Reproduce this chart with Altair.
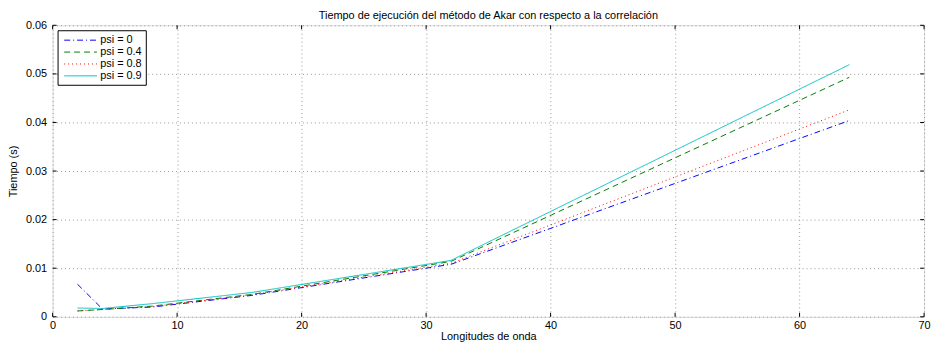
import altair as alt
import pandas as pd

x_vals = [2, 4, 8, 16, 32, 64]
psi_0 = [0.0067, 0.0016, 0.0020, 0.0044, 0.0108, 0.0404]
psi_04 = [0.0012, 0.0015, 0.0022, 0.0046, 0.0114, 0.0493]
psi_08 = [0.0012, 0.0015, 0.0021, 0.0045, 0.0110, 0.0426]
psi_09 = [0.0018, 0.0017, 0.0027, 0.0050, 0.0116, 0.0519]
series_names = ["psi = 0", "psi = 0.4", "psi = 0.8", "psi = 0.9"]
series_colors = ["#0000FF", "#008000", "#FF0000", "#00BFBF"]
series_dashes = [[6, 3, 1, 3], [6, 4], [1, 3], [1, 0]]
x_ticks = [0, 10, 20, 30, 40, 50, 60, 70]
y_ticks = [0, 0.01, 0.02, 0.03, 0.04, 0.05, 0.06]

W, H = 879, 294
TICK = 4

rows = []
for name, vals in zip(series_names, [psi_0, psi_04, psi_08, psi_09]):
    for xv, yv in zip(x_vals, vals):
        rows.append({"x": xv, "y": yv, "serie": name})
df = pd.DataFrame(rows)
xt = pd.DataFrame({"x": x_ticks})
yt = pd.DataFrame({"y": y_ticks})

FONT = "Liberation Sans"

xs = alt.Scale(domain=[0, 70], nice=False)
ys = alt.Scale(domain=[0, 0.06], nice=False)

x_axis = alt.Axis(
    values=x_ticks, title="Longitudes de onda", grid=True, gridDash=[1, 3],
    gridColor="#999999", gridWidth=1, domain=False, ticks=False, tickSize=0,
    labelPadding=3, labelFontSize=11, labelFont=FONT,
    labelColor="black", titleFont=FONT, titleFontSize=11, titleFontWeight="normal",
    titleColor="black", titlePadding=0, labelFlush=False)
y_axis = alt.Axis(
    values=y_ticks, title="Tiempo (s)", grid=True, gridDash=[1, 3],
    gridColor="#999999", gridWidth=1, domain=False, ticks=False, tickSize=0,
    labelPadding=6, labelFontSize=11, labelFont=FONT,
    labelColor="black", labelExpr="datum.value == 0 ? '0' : format(datum.value, '.2f')",
    titleFont=FONT, titleFontSize=11, titleFontWeight="normal", titleColor="black",
    titlePadding=7, labelFlush=False)

lines = alt.Chart(df).mark_line(strokeWidth=1, clip=True).encode(
    x=alt.X("x:Q", scale=xs, axis=x_axis),
    y=alt.Y("y:Q", scale=ys, axis=y_axis),
    color=alt.Color("serie:N", sort=series_names,
                    scale=alt.Scale(domain=series_names, range=series_colors),
                    legend=alt.Legend(
                        title=None, orient="none", legendX=5, legendY=5,
                        strokeColor="black", fillColor="white", padding=4,
                        symbolType="M-0.6,0H5.4", symbolSize=121, symbolStrokeWidth=1,
                        labelOffset=27, labelFontSize=11, labelFont=FONT,
                        labelColor="black", rowPadding=1)),
    strokeDash=alt.StrokeDash("serie:N", sort=series_names,
                              scale=alt.Scale(domain=series_names, range=series_dashes),
                              legend=None),
)

tick_bottom = alt.Chart(xt).mark_rule(color="black", strokeWidth=1).encode(
    x=alt.X("x:Q", scale=xs, axis=x_axis), y=alt.value(H), y2=alt.value(H - TICK))
tick_top = alt.Chart(xt).mark_rule(color="black", strokeWidth=1).encode(
    x=alt.X("x:Q", scale=xs, axis=x_axis), y=alt.value(0), y2=alt.value(TICK))
tick_left = alt.Chart(yt).mark_rule(color="black", strokeWidth=1).encode(
    y=alt.Y("y:Q", scale=ys, axis=y_axis), x=alt.value(0), x2=alt.value(TICK))
tick_right = alt.Chart(yt).mark_rule(color="black", strokeWidth=1).encode(
    y=alt.Y("y:Q", scale=ys, axis=y_axis), x=alt.value(W), x2=alt.value(W - TICK))

chart = alt.layer(lines, tick_bottom, tick_top, tick_left, tick_right).properties(
    width=W, height=H,
    autosize=alt.AutoSizeParams(type="none"),
    padding={"left": 45, "top": 16, "right": 8, "bottom": 24},
    title=alt.Title("Tiempo de ejecución del método de Akar con respecto a la correlación",
                    fontSize=11, fontWeight="normal", font=FONT, color="black",
                    offset=4, dy=6),
).configure_view(stroke="black", strokeWidth=1).configure(background="white")

chart.save("out.html", embed_options={"renderer": "svg", "actions": False})
